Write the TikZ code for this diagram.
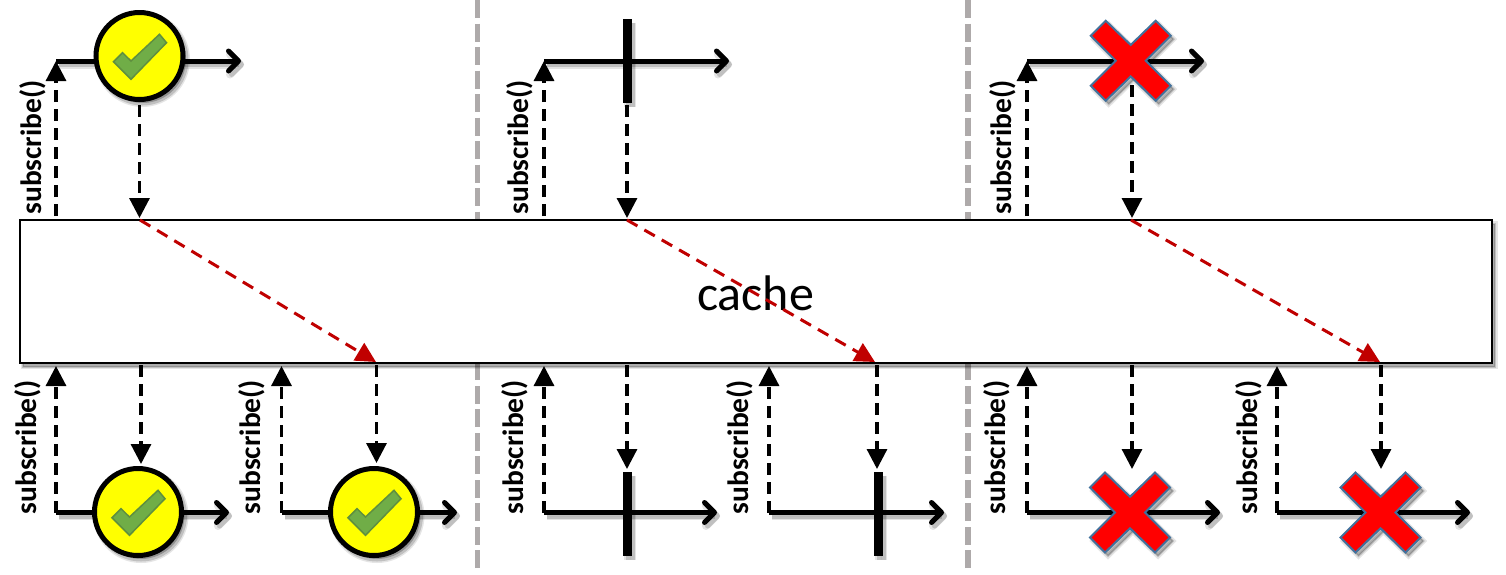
\documentclass[tikz,border=0pt]{standalone}
\usepackage{fontspec}
\setmainfont{Carlito}
\usetikzlibrary{arrows.meta,calc}
\definecolor{sepgray}{HTML}{AEAAAA}
\definecolor{redarrow}{HTML}{C00000}
\definecolor{chkfill}{HTML}{70AD47}
\definecolor{chkline}{HTML}{5F8F3F}
\definecolor{xline}{HTML}{41719C}
\definecolor{dotyellow}{HTML}{FFFF00}
\definecolor{xred}{HTML}{FF0000}
\tikzset{
  softb/.style={preaction={draw=black,fill=black,draw opacity=.10,fill opacity=.10,line width=#1+3pt,transform canvas={shift={(3pt,-3.5pt)}}},
                preaction={draw=black,fill=black,draw opacity=.16,fill opacity=.16,line width=#1,transform canvas={shift={(3pt,-3.5pt)}}}},
  sep/.style={draw=sepgray,line width=5.5pt,dash pattern=on 18pt off 5.5pt},
  cachebox/.style={draw=black,fill=white,line width=2pt,minimum width=1472pt,minimum height=143pt,inner sep=0pt,softb=2pt},
  timeline/.style={draw=black,line width=5pt,-{Straight Barb[length=10pt 0 0,width=20pt 0 0,round]},softb=5pt},
  call/.style={draw=black,line width=3.2pt,dash pattern=on 12pt off 7pt,-{Triangle[length=20pt 0 0,width=20pt 0 0]}},
  replay/.style={draw=redarrow,line width=3pt,dash pattern=on 12pt off 8pt,-{Triangle[length=20pt 0 0,width=20pt 0 0]}},
  okdot/.style={circle,draw=black,fill=dotyellow,line width=5pt,minimum size=87pt,inner sep=0pt,softb=5pt},
  okmark/.style={draw=chkline,fill=chkfill,line width=1.5pt,line join=miter},
  errmark/.style={draw=xline,fill=xred,line width=2pt,line join=miter,softb=2pt},
  donebar/.style={draw=black,line width=9pt,softb=9pt},
  sublabel/.style={rotate=90,anchor=base,font=\fontsize{29.5}{32}\selectfont\bfseries,inner sep=0pt},
}
\newcommand{\okglyph}[1]{\path[okmark,shift={(#1)}] (-26,5.7)--(-17,-3.3)--(-8.5,5)--(20,-21.7)--(27,-13.3)--(-8.5,23.3)--cycle;}
\newcommand{\errglyph}[1]{\path[errmark,shift={(#1)}] (-25,-40)--(0,-15.7)--(25,-40)--(40,-25)--(15,0)--(40,25)--(25,40)--(0,15.7)--(-25,40)--(-40,25)--(-15,0)--(-40,-25)--cycle;}
\begin{document}
\begin{tikzpicture}[x=1pt,y=-1pt]
\useasboundingbox (0,0) rectangle (1506,574);
% named anchors
\coordinate (s1t) at (477.5,0);  \coordinate (s1u) at (477.5,220);
\coordinate (s1v) at (477.5,363); \coordinate (s1w) at (477.5,568);
\coordinate (s2t) at (968,0);  \coordinate (s2u) at (968,220);
\coordinate (s2v) at (968,363); \coordinate (s2w) at (968,568);
\draw[sep] (s1t)--(s1u); \draw[sep] (s2t)--(s2u);
\draw[sep] (s1w)--(s1v); \draw[sep] (s2w)--(s2v);
\node[cachebox] (cache) at (756,291.5) {};
% ---------- top row
\coordinate (a0) at (56,61);   \coordinate (a1) at (241,61);  \coordinate (au) at (56,216);
\coordinate (ax) at (139.5,105); \coordinate (ay) at (139.5,218);
\coordinate (b0) at (544,61);  \coordinate (b1) at (729,61);  \coordinate (bu) at (544,216);
\coordinate (bx) at (627,105); \coordinate (by) at (627,218);
\coordinate (bt) at (627,19);  \coordinate (bb) at (627,103);
\coordinate (c0) at (1027,61); \coordinate (c1) at (1204,61); \coordinate (cu) at (1027,216);
\coordinate (cm) at (1130.7,60.7);
\coordinate (cx) at (1132,85); \coordinate (cy) at (1132,218);
\draw[timeline] (a0)--(a1);
\node[okdot] (oa) at (139.5,56) {};
\okglyph{oa}
\draw[timeline] (b0)--(b1);
\draw[donebar] (bt)--(bb);
\draw[timeline] (c0)--(c1);
\errglyph{cm}
\draw[call] (au)--(a0); \draw[call] (ax)--(ay);
\draw[call] (bu)--(b0); \draw[call] (bx)--(by);
\draw[call] (cu)--(c0); \draw[call] (cx)--(cy);
\node[sublabel] (la) at (41,147.5) {subscribe()};
\node[sublabel] (lb) at (528,147.5) {subscribe()};
\node[sublabel] (lc) at (1011,147.5) {subscribe()};
% ---------- replays through the cache
\coordinate (ra0) at (140,220);  \coordinate (ra1) at (376,362);
\coordinate (rb0) at (627,220);  \coordinate (rb1) at (875,362);
\coordinate (rc0) at (1131,220); \coordinate (rc1) at (1380,362);
\node[font=\fontsize{50}{54}\selectfont,inner sep=0pt,anchor=base] (cachetext) at (755.5,310) {cache};
\draw[replay] (ra0)--(ra1);
\draw[replay] (rb0)--(rb1);
\draw[replay] (rc0)--(rc1);
% ---------- bottom row
\coordinate (d0) at (56,512.5);  \coordinate (d1) at (229,512.5); \coordinate (du) at (56,366);
\coordinate (dx) at (141,365); \coordinate (dy) at (141,464);
\coordinate (e0) at (281.5,512.5); \coordinate (e1) at (457,512.5); \coordinate (eu) at (281.5,366);
\coordinate (ex) at (376.5,365); \coordinate (ey) at (376.5,463);
\coordinate (f0) at (544,512.5); \coordinate (f1) at (717,512.5); \coordinate (fu) at (544,366);
\coordinate (fx) at (627,365); \coordinate (fy) at (627,469);
\coordinate (ft) at (627,472); \coordinate (fb) at (627,556);
\coordinate (g0) at (769,512.5); \coordinate (g1) at (944,512.5); \coordinate (gu) at (769,366);
\coordinate (gx) at (877,365); \coordinate (gy) at (877,469);
\coordinate (gt) at (878,472); \coordinate (gb) at (878,556);
\coordinate (h0) at (1027,512.5); \coordinate (h1) at (1220,512.5); \coordinate (hu) at (1027,366);
\coordinate (hm) at (1130,512.5);
\coordinate (hx) at (1132,365); \coordinate (hy) at (1132,469);
\coordinate (i0) at (1277,512.5); \coordinate (i1) at (1470,512.5); \coordinate (iu) at (1277,366);
\coordinate (im) at (1380.5,512.5);
\coordinate (ix) at (1381,365); \coordinate (iy) at (1381,469);
\draw[timeline] (d0)--(d1);
\node[okdot] (od) at (138,512) {};
\okglyph{od}
\draw[timeline] (e0)--(e1);
\node[okdot] (oe) at (374,512) {};
\okglyph{oe}
\draw[timeline] (f0)--(f1); \draw[donebar] (ft)--(fb);
\draw[timeline] (g0)--(g1); \draw[donebar] (gt)--(gb);
\draw[timeline] (h0)--(h1); \errglyph{hm}
\draw[timeline] (i0)--(i1); \errglyph{im}
\draw[call] (d0)--(du); \draw[call] (dx)--(dy);
\draw[call] (e0)--(eu); \draw[call] (ex)--(ey);
\draw[call] (f0)--(fu); \draw[call] (fx)--(fy);
\draw[call] (g0)--(gu); \draw[call] (gx)--(gy);
\draw[call] (h0)--(hu); \draw[call] (hx)--(hy);
\draw[call] (i0)--(iu); \draw[call] (ix)--(iy);
\node[sublabel] (ld) at (36.5,447) {subscribe()};
\node[sublabel] (le) at (260.5,447) {subscribe()};
\node[sublabel] (lf) at (523,447) {subscribe()};
\node[sublabel] (lg) at (748,447) {subscribe()};
\node[sublabel] (lh) at (1005,447) {subscribe()};
\node[sublabel] (li) at (1257,447) {subscribe()};
\end{tikzpicture}
\end{document}
